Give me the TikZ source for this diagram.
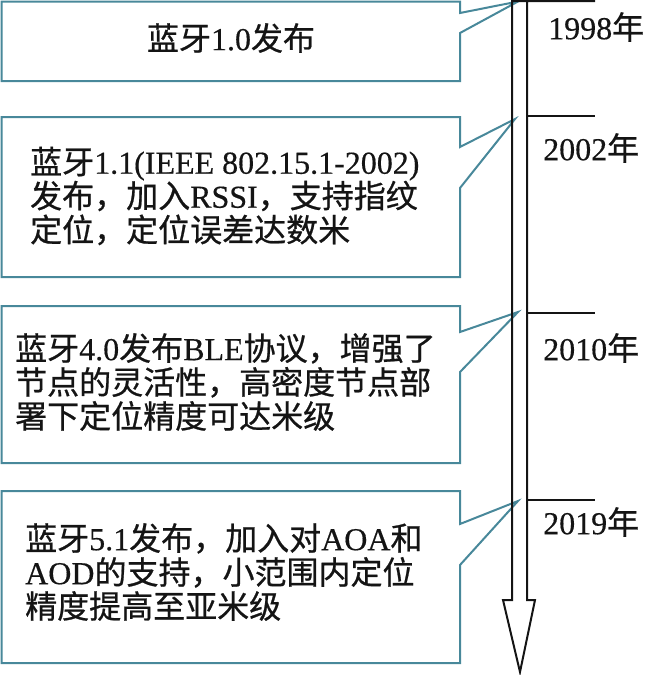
\documentclass[tikz,border=0pt]{standalone}
\usepackage{fontspec}
\setmainfont[FakeBold=0.4]{Liberation Serif}
\newfontfamily\cjk[FakeBold=0.7]{Noto Sans CJK SC}
\newcommand\zh[1]{{\cjk #1}}
\definecolor{boxteal}{RGB}{72,136,154}
\definecolor{inkblack}{RGB}{20,20,20}
\begin{document}
\begin{tikzpicture}[x=1pt,y=-1pt,
  calloutbox/.style={draw=boxteal,line width=2pt,line join=miter},
  timeline/.style={draw=inkblack,line width=2pt,line join=miter},
  txt/.style={inner sep=0pt,align=left,anchor=west,text=inkblack,font=\fontsize{32}{34}\selectfont},
  yeartxt/.style={inner sep=0pt,anchor=west,text=inkblack,font=\fontsize{32}{34}\selectfont}]
\useasboundingbox (0,0) rectangle (646,675);
% pointer tips on the time axis
\coordinate (p1) at (518,1.5);
\coordinate (p2) at (515,119);
\coordinate (p3) at (518,312);
\coordinate (p4) at (518,501);
% callout boxes
\draw[calloutbox] (1.5,1.5) -- (460,1.5) -- (460,13) -- (p1) -- (460,33) -- (460,81) -- (1.5,81) -- cycle;
\draw[calloutbox] (1.5,117) -- (460,117) -- (460,147) -- (p2) -- (460,188) -- (460,277) -- (1.5,277) -- cycle;
\draw[calloutbox] (1.5,306) -- (460,306) -- (460,332) -- (p3) -- (460,372) -- (460,463) -- (1.5,463) -- cycle;
\draw[calloutbox] (1.5,491) -- (460,491) -- (460,524) -- (p4) -- (460,565) -- (460,663) -- (1.5,663) -- cycle;
% time axis (hollow block arrow)
\coordinate (axtop) at (512,1);
\coordinate (tip) at (520,672);
\draw[timeline] (595,1) -- (axtop) -- (512,600) -- (503,600) -- (tip) -- (535,600) -- (527,600) -- (527,1);
\coordinate (t2) at (527,116);
\coordinate (t3) at (527,313);
\coordinate (t4) at (527,500);
\draw[timeline] (t2) -- +(68,0);
\draw[timeline] (t3) -- +(68,0);
\draw[timeline] (t4) -- +(68,0);
% texts
\node[txt,anchor=center] (b1) at (231,38) {\zh{蓝牙}1.0\zh{发布}};
\node[txt] (b2) at (30,196) {\zh{蓝牙}1.1(IEEE 802.15.1-2002)\\\zh{发布，加入}RSSI\zh{，支持指纹}\\\zh{定位，定位误差达数米}};
\node[txt] (b3) at (15,382) {\zh{蓝牙}4.0\zh{发布}BLE\zh{协议，增强了}\\\zh{节点的灵活性，高密度节点部}\\\zh{署下定位精度可达米级}};
\node[txt] (b4) at (25,572) {\zh{蓝牙}5.1\zh{发布，加入对}AOA\zh{和}\\AOD\zh{的支持，小范围内定位}\\\zh{精度提高至亚米级}};
\node[yeartxt] (y1) at (548,27) {1998\zh{年}};
\node[yeartxt] (y2) at (543,148) {2002\zh{年}};
\node[yeartxt] (y3) at (543,348) {2010\zh{年}};
\node[yeartxt] (y4) at (543,522) {2019\zh{年}};
\end{tikzpicture}
\end{document}
